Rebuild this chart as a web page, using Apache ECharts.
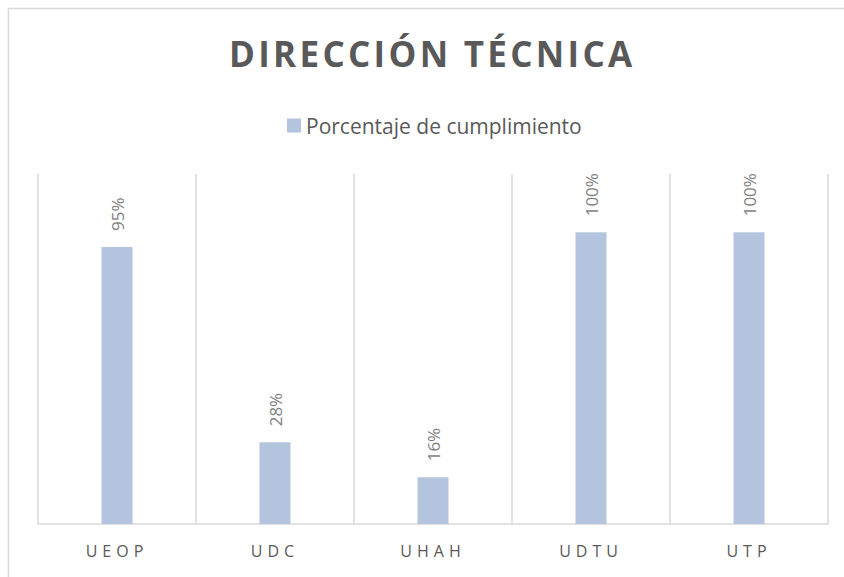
<!DOCTYPE html>
<html>
<head>
<meta charset="utf-8">
<script src="https://cdn.jsdelivr.net/npm/echarts@6/dist/echarts.min.js"></script>
<style>
  html, body { margin: 0; padding: 0; background: #fff; }
  #chart { width: 844px; height: 577px; }
</style>
</head>
<body>
<div id="chart"></div>
<script>
var titulo = 'DIRECCIÓN TÉCNICA';
var serieNombre = 'Porcentaje de cumplimiento';
var unidades = ['UEOP', 'UDC', 'UHAH', 'UDTU', 'UTP'];
var cumplimiento = [0.95, 0.28, 0.16, 1.00, 1.00];

var fuente = '"Open Sans", "Liberation Sans", sans-serif';

var option = {
    backgroundColor: '#fff',
    animation: false,
    title: {
        text: titulo,
        left: 224,
        top: 31,
        textStyle: {
            fontFamily: fuente,
            fontWeight: 'bold',
            fontSize: 35,
            color: '#595959'
        }
    },
    legend: {
        top: 110,
        left: 282,
        icon: 'rect',
        itemWidth: 14,
        itemHeight: 14,
        itemGap: 6,
        textStyle: {
            fontFamily: fuente,
            fontSize: 21,
            color: '#595959'
        },
        data: [serieNombre]
    },
    grid: {
        left: 38,
        right: 16,
        top: 174,
        bottom: 53
    },
    graphic: [{
        type: 'rect',
        shape: { x: 8.5, y: 8.5, width: 900, height: 900 },
        style: { fill: 'none', stroke: '#d9d9d9', lineWidth: 1.5 },
        silent: true
    }],
    xAxis: {
        type: 'category',
        data: unidades,
        boundaryGap: true,
        axisLine: { lineStyle: { color: '#d9d9d9', width: 1.5 } },
        axisTick: { show: false },
        axisLabel: {
            fontFamily: fuente,
            fontSize: 16,
            color: '#595959',
            margin: 19
        },
        splitLine: { show: true, lineStyle: { color: '#d9d9d9', width: 1.5 } }
    },
    yAxis: {
        type: 'value',
        min: 0,
        max: 1.2,
        show: false
    },
    series: [{
        name: serieNombre,
        type: 'bar',
        barWidth: 31,
        itemStyle: { color: '#b4c4df' },
        label: {
            show: true,
            position: 'top',
            rotate: 90,
            align: 'left',
            verticalAlign: 'middle',
            distance: 16,
            fontFamily: fuente,
            fontSize: 17,
            color: '#7f7f7f',
            formatter: function (p) {
                return Math.round(p.value * 100) + '%';
            }
        },
        data: cumplimiento
    }]
};

var dom = document.getElementById('chart');
var myChart = echarts.init(dom, null, { renderer: 'svg' });
myChart.setOption(option);

// espaciado de letras como en el original (título y etiquetas del eje)
var textos = dom.querySelectorAll('text');
for (var i = 0; i < textos.length; i++) {
    var t = textos[i].textContent;
    if (t === titulo) {
        textos[i].setAttribute('letter-spacing', '3.3px');
    } else if (unidades.indexOf(t) >= 0) {
        textos[i].setAttribute('letter-spacing', '5px');
    }
}
</script>
</body>
</html>
